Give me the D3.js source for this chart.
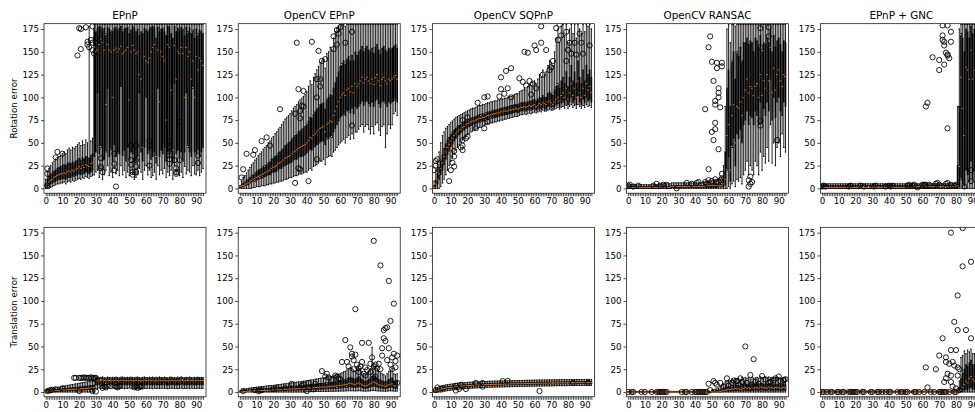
<!DOCTYPE html>
<html>
<head>
<meta charset="utf-8">
<script src="https://cdn.jsdelivr.net/npm/d3@7"></script>
<style>
body { margin: 0; background: #fff; }
svg { display: block; }
text { font-family: "DejaVu Sans", sans-serif; }
</style>
</head>
<body>
<div id="chart"></div>
<script>
// methods and row labels
var titles = ["EPnP", "OpenCV EPnP", "OpenCV SQPnP", "OpenCV RANSAC", "EPnP + GNC"];
var rowLabels = ["Rotation error", "Translation error"];
var positions = d3.range(95);
var xTickLabels = [0, 10, 20, 30, 40, 50, 60, 70, 80, 90];
var yTicks = [0, 25, 50, 75, 100, 125, 150, 175];

// ---------- rotation error ----------
var rotEpnpMed = [2,5,7,9,10,12,13,14,15,16, 16,17,16,18,19,18,20,19,21,22, 24,22,25,23,26,25,24,27,28,155,
  150,152,158,164,160,152,92,158,152,150, 100,152,154,150,153,156,148,150,152,155, 97,150,157,152,148,150,125,120,45,145,
  140,138,143,150,155,158,35,152,95,150, 145,140,75,158,155,108,42,157,120,150, 148,155,148,100,155,145,150,120,140,100, 145,130,143,140,135];
var rotEpnpQ1 = [0,2,3,5,6,7,8,9,10,10, 11,11,10,12,12,12,14,13,14,15, 16,15,17,16,18,17,16,18,20,35,
  40,105,38,45,30,32,40,110,35,42, 30,48,35,40,38,112,36,42,30,45, 32,40,38,28,30,35,105,40,30,45,
  100,38,42,32,35,40,28,110,35,42, 38,45,30,40,35,40,28,115,38,42, 35,40,30,40,105,45,40,35,110,40, 38,42,35,40,45];
var rotEpnpQ3 = [5,10,13,15,17,19,20,22,23,24, 25,26,25,27,28,27,29,28,30,31, 33,31,34,32,35,34,33,36,38,175,
  172,176,178,177,174,176,170,177,175,173, 172,176,177,174,176,178,172,175,176,177, 170,174,178,176,172,175,168,172,170,176,
  174,172,175,177,178,176,165,177,172,175, 176,172,168,178,177,170,165,178,172,176, 174,177,175,168,177,172,176,170,174,165, 175,170,174,172,170];
var rotEpnpLo = [0,0,0,1,2,3,4,5,5,6, 6,7,5,7,8,7,9,8,9,10, 11,10,12,11,13,12,11,13,14,15,
  18,20,12,22,10,15,20,25,14,18, 12,22,16,20,14,25,15,20,12,18, 14,20,16,10,12,15,22,18,10,20,
  25,15,20,12,14,18,10,25,15,20, 16,22,12,18,14,20,10,25,15,20, 14,18,12,24,16,20,18,14,25,16, 15,20,14,18,22];
var rotEpnpHi = [10,18,22,25,28,30,32,34,35,36, 38,40,38,42,44,42,45,44,46,48, 50,47,52,48,53,50,178,52,55,180,
  180,180,180,180,180,180,180,180,180,180, 180,180,180,180,180,180,180,180,180,180, 180,180,180,180,180,180,180,180,180,180,
  180,180,180,180,180,180,180,180,180,180, 180,180,180,180,180,180,180,180,180,180, 180,180,180,180,180,180,180,180,180,180, 180,180,180,180,180];
var rotEpnpOut = [[1,22],[1,16],[1,3],[6,34],[7,40],[10,38],
  [19,146],[20,176],[21,175],[21,153],[24,177],[25,161],[25,158],[26,155],[27,163],[28,160],[28,178],[28,152],[29,148],[30,165],[30,160],
  [33,33],[33,24],[33,22],[34,18],[41,38],[41,27],[41,20],[42,2],
  [51,47],[51,31],[51,26],[52,18],[52,15],[54,47],[54,31],[54,24],[54,18],
  [62,52],[62,47],[62,25],[74,52],[74,45],[74,36],[74,32],[74,27],
  [77,31],[78,22],[78,18],[78,16],[80,73],[80,31],[91,36],[91,28]];

var rotOcvEpnpMed = [0,2,3,4,5,6,8,9,10,11, 12,13,14,15,16,17,18,19,20,22, 23,24,25,27,28,29,31,33,34,35,
  36,38,40,41,42,44,45,46,47,48, 50,53,56,55,58,60,62,64,66,67, 68,62,70,72,74,73,80,85,90,95,
  100,103,105,102,108,110,106,112,105,115, 112,115,118,122,116,120,122,118,115,120, 114,122,125,118,113,120,122,118,115,120, 118,120,122,124,120];
var rotOcvEpnpQ1 = [0,1,2,3,4,4,6,7,8,8, 9,10,11,11,12,13,14,15,15,17, 18,18,19,21,22,22,24,25,26,27,
  28,29,31,32,32,34,35,35,36,37, 39,41,43,42,45,46,48,49,51,52, 52,48,54,55,57,56,62,66,70,74,
  78,80,82,80,85,86,83,88,82,90, 88,90,93,96,91,95,96,93,90,95, 90,96,98,93,89,95,96,93,90,95, 93,95,96,98,95];
var rotOcvEpnpQ3 = [1,4,6,7,9,10,12,14,15,17, 18,20,21,22,24,25,26,28,29,32, 33,35,36,39,40,42,44,47,48,50,
  51,54,56,58,59,62,63,65,66,68, 70,74,78,77,81,84,87,89,92,93, 94,87,98,100,103,102,110,116,122,128,
  134,137,140,136,142,145,140,146,140,150, 146,150,152,156,150,154,156,152,150,154, 148,155,158,152,147,154,156,152,150,154, 152,154,156,158,154];
var rotOcvEpnpLo = [0,0,0,0,0,0,0,0,1,1, 2,2,2,3,3,3,4,4,5,5, 6,6,7,7,8,8,9,10,10,11,
  12,12,13,14,14,15,16,16,17,18, 18,20,22,20,24,25,26,28,30,30, 32,26,34,35,36,35,40,42,45,48,
  50,52,54,50,56,58,54,60,55,62, 62,65,68,70,62,68,70,65,60,68, 60,70,72,64,58,68,70,45,60,70, 66,70,82,85,80];
var rotOcvEpnpHi = [3,8,12,14,17,20,23,26,28,31, 33,36,38,40,43,45,47,50,52,55, 57,60,62,65,67,70,73,76,78,80,
  82,85,88,90,92,95,97,99,101,103, 106,112,118,114,122,126,130,134,138,140, 142,132,148,150,155,152,165,172,176,178,
  180,180,180,178,180,180,180,180,180,180, 180,180,180,180,180,180,180,180,180,180, 180,180,180,180,180,180,180,180,180,180, 180,180,180,180,180];
var rotOcvEpnpOut = [[1,12],[2,21],[4,38],[8,37],[9,42],[13,52],[16,56],[18,47],[24,87],
  [33,6],[33,82],[34,160],[35,109],[35,22],[36,21],[36,77],[36,85],[37,91],[38,107],[38,90],
  [41,8],[43,161],[46,120],[46,100],[46,32],[47,151],[48,120],[48,112],[49,140],[51,142],
  [56,153],[56,167],[58,158],[58,174],[59,170],[60,177],[63,160],[67,172],[67,69]];

var rotSqpnpMed = [1,5,10,16,22,28,35,40,45,48, 52,55,58,60,62,64,65,67,68,70, 71,72,73,74,74,75,76,77,77,78,
  78,79,80,80,81,81,82,82,83,83, 84,84,85,85,85,86,86,87,87,88, 87,88,89,89,90,89,90,91,90,91,
  92,90,91,93,92,94,93,92,95,96, 94,92,95,98,100,96,102,105,100,110, 98,105,115,102,110,100,118,105,100,110, 102,115,108,112,105];
var rotSqpnpQ1 = [0,2,5,10,15,20,26,32,37,41, 46,49,52,55,57,59,61,63,64,66, 67,68,69,70,70,71,72,73,73,74,
  74,75,76,76,77,77,78,78,79,79, 80,80,81,81,81,82,82,83,83,84, 83,84,85,85,86,85,86,87,86,87,
  88,86,87,88,87,89,88,87,90,90, 89,88,90,92,93,90,94,95,92,97, 92,95,100,94,98,92,102,95,92,98, 94,100,96,98,95];
var rotSqpnpQ3 = [3,9,16,23,30,37,44,49,53,56, 59,62,64,66,68,69,70,72,73,74, 75,76,77,78,78,79,80,81,81,82,
  82,83,84,84,85,85,86,86,87,87, 88,88,89,89,90,90,91,91,92,92, 92,93,94,94,95,94,95,96,96,97,
  98,96,98,100,99,102,100,100,104,106, 104,102,108,112,115,110,118,122,115,128, 112,122,135,118,128,115,140,122,115,130, 118,135,125,130,122];
var rotSqpnpLo = [0,0,0,0,2,6,10,15,20,25, 30,34,38,42,45,48,51,53,55,57, 59,60,62,63,64,65,66,67,67,68,
  69,70,71,71,72,72,73,73,74,74, 75,75,76,76,77,77,78,78,79,79, 79,80,81,81,82,81,82,83,82,83,
  84,83,84,85,84,86,85,85,86,87, 86,86,87,88,89,87,89,90,88,91, 88,90,92,89,91,88,92,90,88,91, 89,92,90,91,89];
var rotSqpnpHi = [8,20,30,40,50,58,62,66,68,70, 72,74,76,78,79,80,81,82,83,84, 85,86,87,88,88,89,90,91,91,92,
  92,93,94,94,95,95,96,96,97,97, 98,98,99,99,100,101,101,102,103,104, 104,106,107,108,110,108,112,114,113,116,
  118,115,120,125,122,130,125,128,135,140, 138,135,150,165,175,160,178,180,168,180, 160,175,180,170,180,165,180,175,170,180, 172,180,178,180,175];
var rotSqpnpOut = [[0,20],[1,25],[1,30],[2,32],[9,8],[10,20],[11,28],[12,35],[12,41],[12,24],
  [16,45],[17,47],[17,42],[17,53],[17,75],[19,55],[20,57],[20,78],[25,66],[26,94],
  [30,66],[30,100],[32,101],[32,73],[39,101],[40,109],[40,122],[42,104],[43,129],[44,110],[46,132],[46,100],
  [51,121],[53,117],[54,150],[55,113],[56,149],[57,118],[58,103],[59,115],[60,157],[61,152],[61,110],
  [64,178],[64,160],[65,125],[67,152],[69,130],[70,133],[71,140],[73,176],[74,163],[75,180],[76,168],
  [79,140],[79,172],[80,152],[81,160],[82,148],[84,160],[85,147],[87,170],[88,160],[89,148],[93,157]];

var rotRansacMed = [1,1,1,1,1,1,1,1,1,1, 1,1,1,1,1,1,1,1,1,1, 1,1,1,1,1,1,2,2,2,2,
  2,2,2,2,2,2,2,2,2,2, 2,2,2,2,2,2,2,3,3,3, 3,3,3,3,3,3,3,5,10,58,
  70,20,80,92,50,90,88,95,80,100, 108,120,105,112,110,102,112,115,100,125, 102,118,110,125,118,155,105,132,108,125, 130,118,112,125,123];
var rotRansacQ1 = [0,0,0,0,0,0,0,0,0,0, 0,0,0,0,0,0,0,0,0,0, 0,0,0,0,0,0,1,1,1,1,
  1,1,1,1,1,1,1,1,1,1, 1,1,1,1,1,1,1,1,1,1, 1,1,1,1,2,2,2,2,4,20,
  35,8,45,55,25,60,55,65,50,70, 75,85,70,80,78,70,85,80,70,95, 72,88,80,95,85,120,75,100,78,95, 100,85,80,95,90];
var rotRansacQ3 = [2,2,2,2,2,2,2,2,2,2, 2,2,2,2,2,2,2,2,2,2, 2,2,2,2,2,2,3,3,3,3,
  3,3,3,3,3,3,3,3,3,3, 3,3,3,3,3,3,4,4,4,4, 4,5,5,5,5,6,6,10,40,110,
  130,90,140,150,120,150,145,155,140,160, 160,165,158,162,160,150,165,162,155,168, 150,160,158,165,160,175,150,168,155,162, 165,158,150,162,160];
var rotRansacLo = [0,0,0,0,0,0,0,0,0,0, 0,0,0,0,0,0,0,0,0,0, 0,0,0,0,0,0,0,0,0,0,
  0,0,0,0,0,0,0,0,0,0, 0,0,0,0,0,0,0,0,0,0, 0,0,0,0,0,0,0,0,0,0,
  2,0,5,8,2,10,8,12,5,15, 20,30,15,25,20,15,30,25,15,40, 20,35,28,45,30,70,28,50,25,45, 50,35,60,45,40];
var rotRansacHi = [4,4,4,4,4,4,4,4,4,4, 4,4,4,4,4,4,4,4,4,4, 5,5,5,5,5,5,6,6,6,6,
  6,6,6,6,6,6,6,6,6,6, 6,6,6,6,6,7,7,8,8,8, 8,9,9,9,10,10,12,25,90,175,
  180,160,180,180,178,180,180,180,180,180, 180,180,180,180,180,180,180,180,180,180, 180,180,180,180,180,180,180,180,180,180, 180,180,180,180,180];
var rotRansacOut = [[0,3],[1,4],[3,2],[6,3],[15,3],[17,5],[19,3],[21,4],[23,4],[29,0],[35,6],[38,5],[41,6],[42,7],[46,7],[47,5],[48,9],[50,8],[52,10],[53,7],[55,9],[56,11],
  [46,87],[48,155],[49,167],[50,139],[51,118],[48,21],[50,62],[51,53],[52,72],[52,65],[52,96],[52,92],[53,132],[53,138],[54,110],[54,100],[54,105],[54,43],[55,89],[56,134],[56,138],[56,16],
  [72,9],[72,2],[73,5],[73,13],[74,7],[79,176],[79,155],[79,74],[79,69],[84,177],[84,167],[89,53]];

var rotGncMed = [1,1,1,1,1,1,1,1,1,1, 1,1,1,1,1,1,1,1,1,1, 1,1,1,1,1,1,1,1,1,1,
  1,1,1,1,1,1,1,1,1,1, 1,1,1,1,1,1,1,1,1,1, 1,1,1,1,1,2,2,2,2,2,
  2,2,2,2,2,2,2,2,2,2, 2,2,2,2,2,2,2,2,2,2, 2,3,24,122,88,58,133,130,120,152, 120,130,110,140,125];
var rotGncQ1 = [0,0,0,0,0,0,0,0,0,0, 0,0,0,0,0,0,0,0,0,0, 0,0,0,0,0,0,0,0,0,0,
  0,0,0,0,0,0,0,0,0,0, 0,0,0,0,0,0,0,0,0,0, 0,0,0,0,0,0,0,0,0,0,
  0,0,0,0,0,0,0,0,0,0, 0,0,0,0,0,0,0,0,0,0, 0,0,2,10,5,3,20,15,8,30, 10,20,15,25,10];
var rotGncQ3 = [3,3,3,3,3,3,3,3,3,3, 3,3,3,3,3,3,3,3,3,3, 3,3,3,3,3,3,3,3,3,3,
  3,3,3,3,3,3,3,3,3,3, 3,3,3,3,3,3,3,3,3,3, 3,3,3,3,3,3,3,3,3,3,
  3,3,3,3,3,3,3,3,3,3, 3,3,3,3,3,3,3,3,3,3, 3,25,90,170,165,150,175,172,165,178, 170,175,165,178,170];
var rotGncLo = [0,0,0,0,0,0,0,0,0,0, 0,0,0,0,0,0,0,0,0,0, 0,0,0,0,0,0,0,0,0,0,
  0,0,0,0,0,0,0,0,0,0, 0,0,0,0,0,0,0,0,0,0, 0,0,0,0,0,0,0,0,0,0,
  0,0,0,0,0,0,0,0,0,0, 0,0,0,0,0,0,0,0,0,0, 0,0,0,0,0,0,0,0,0,0, 0,0,0,0,0];
var rotGncHi = [5,5,5,5,5,5,5,5,5,5, 5,5,5,5,5,5,5,5,5,5, 5,5,5,5,5,5,5,5,5,5,
  5,5,5,5,5,5,5,5,5,5, 5,5,5,5,5,5,5,5,5,5, 5,5,5,5,5,5,5,5,5,5,
  5,5,5,5,5,5,5,5,5,5, 5,5,5,5,5,5,5,5,5,5, 5,90,175,180,180,180,180,180,180,180, 180,180,180,180,180];
var rotGncOut = [[0,2],[1,3],[2,2],[16,2],[17,3],[23,3],[25,2],[31,2],[32,3],[38,2],[40,3],[41,2],[42,3],[51,3],[52,4],[54,3],[55,4],[57,1],[60,4],[61,4],[62,4],[64,4],[68,5],[69,6],[70,4],[74,5],[75,6],[77,4],[79,3],[80,4],
  [62,90],[63,94],[66,144],[70,141],[70,130],[72,179],[72,168],[72,163],[73,161],[73,157],[73,136],[74,149],[75,146],[75,147],[76,143],[75,179],[77,161],[77,172],[75,66],[89,20],[89,8],[85,2]];

// ---------- translation error ----------
var trEpnpMed = [0.3,0.5,0.7,0.9,1,1.2,1.4,1.5,1.7,1.8, 2,2.1,2.2,2.4,2.5,2.6,2.8,2.9,3,3.1, 3.3,3.4,3.5,3.7,3.8,4,4.2,4.3,4.5,4.8,
  12.5,13,12,12.8,13.2,12.5,12,13,12.6,12.2, 12.8,12.4,13,12.6,12,12.9,13.1,12.5,12.2,12.8, 12.4,13,12.6,12.2,12.8,13,12.5,12.1,12.7,13.2,
  12.6,12.3,12.9,12.5,13,12.2,12.8,12.4,13.1,12.6, 12.3,12.9,12.5,12.1,12.8,13,12.4,12.7,12.2,12.9, 12.5,13.1,12.6,12.3,12.8,12.4,13,12.6,12.2,12.8, 12.5,12.9,12.4,12.7,12.6];
var trEpnpQ1 = [0,0.2,0.3,0.4,0.5,0.6,0.7,0.8,0.9,1, 1.1,1.2,1.3,1.4,1.5,1.6,1.7,1.8,1.8,1.9, 2,2.1,2.2,2.3,2.4,2.5,2.6,2.7,2.8,3,
  8,7.5,8.2,7.8,8,7.4,8.3,7.9,8.1,7.6, 8,7.7,8.4,7.5,8.1,7.9,8.2,7.6,8,7.8, 8.3,7.5,8,7.9,7.6,8.2,7.8,8.1,7.4,8,
  7.7,8.2,7.9,8,7.5,8.3,7.8,8.1,7.6,8, 8.2,7.7,8,7.5,8.1,7.9,8.3,7.6,8,7.8, 7.9,8.2,7.6,8,7.8,8.1,7.5,8.3,7.9,8, 7.7,8.1,7.8,8,7.9];
var trEpnpQ3 = [0.8,1.2,1.5,1.8,2,2.3,2.6,2.8,3.1,3.3, 3.5,3.7,3.9,4.1,4.3,4.5,4.7,4.9,5.1,5.3, 5.5,5.7,5.9,6.1,6.3,6.5,6.8,7,7.2,7.6,
  14.5,14.8,14.2,14.6,15,14.4,14.1,14.9,14.5,14.3, 14.7,14.4,14.9,14.5,14.2,14.8,15,14.4,14.3,14.7, 14.4,14.9,14.5,14.2,14.7,14.9,14.4,14.1,14.6,15,
  14.5,14.3,14.8,14.4,14.9,14.2,14.7,14.4,15,14.5, 14.3,14.8,14.5,14.1,14.7,14.9,14.4,14.6,14.2,14.8, 14.5,15,14.5,14.3,14.7,14.4,14.9,14.5,14.2,14.7, 14.4,14.8,14.4,14.6,14.5];
var trEpnpLo = [0,0,0,0,0,0,0,0,0,0, 0,0,0,0,0,0,0,0,0,0, 0,0,0,0,0,0,0,0,0,0,
  4,3.5,4.5,3.8,4.2,3.6,4.4,3.9,4.1,3.7, 4.3,3.8,4,3.5,4.4,3.9,4.2,3.6,4.1,3.8, 4.5,3.7,4,4.2,3.6,4.4,3.9,4.1,3.5,4,
  3.8,4.3,3.9,4.1,3.6,4.4,3.8,4.2,3.7,4, 4.3,3.8,4.1,3.6,4.2,3.9,4.4,3.7,4,3.8, 4,4.3,3.7,4.1,3.9,4.2,3.6,4.4,3.9,4, 3.8,4.2,3.9,4.1,4];
var trEpnpHi = [2,2.5,3,3.4,3.8,4.2,4.6,5,5.4,5.8, 6.2,6.5,6.8,7.2,7.5,7.8,8.2,8.5,8.8,9.1, 9.5,9.8,10.1,10.5,10.8,11.2,11.6,11.9,12.3,13,
  15.8,16.2,15.6,16,16.4,15.7,15.5,16.3,15.9,15.6, 16.1,15.8,16.3,15.9,15.5,16.2,16.4,15.8,15.7,16.1, 15.8,16.3,15.9,15.6,16.1,16.3,15.8,15.5,16,16.4,
  15.9,15.7,16.2,15.8,16.3,15.6,16.1,15.8,16.4,15.9, 15.7,16.2,15.9,15.5,16.1,16.3,15.8,16,15.6,16.2, 15.9,16.4,15.9,15.7,16.1,15.8,16.3,15.9,15.6,16.1, 15.8,16.2,15.8,16,15.9];
var trEpnpOut = [[1,1],[2,1.5],[3,2],[4,2.5],[6,3],[10,4],[17,15.5],[18,15.5],[20,15.5],[20,1],[21,15.5],[22,15.5],[23,16],[24,15.5],[25,15.5],[26,15.5],[27,16],[28,15.5],[28,1],[29,15.5],[29,14],[30,15.5],[30,0.5],
  [34,4.5],[35,6],[36,5],[42,6],[43,5],[44,6.5],[53,5],[54,6],[55,4.5],[56,5.5],[57,6]];

var trOcvEpnpMed = [0,0.2,0.4,0.5,0.6,0.8,0.9,1,1.1,1.2, 1.3,1.4,1.5,1.5,1.6,1.7,1.8,1.9,2,2, 2.1,2.2,2.3,2.4,2.5,2.6,2.7,2.8,2.9,3,
  3.1,3.2,3.3,3.4,3.5,3.6,3.7,3.8,3.9,4, 4.1,4.2,4.4,4.5,4.6,4.8,4.9,5,5.2,5.3, 5.4,5.5,5.6,5.8,6,6,6.2,6.5,6.8,7,
  7.2,7.5,7.8,8,8.5,9,9.5,9,8.5,8, 9,10,9,8,7,6.5,7,8,9,10, 11,10,9,8,7.5,7,6.5,6,7,8, 8.5,9,7,6.5,7];
var trOcvEpnpQ1 = [0,0.1,0.2,0.3,0.4,0.5,0.5,0.6,0.7,0.7, 0.8,0.8,0.9,0.9,1,1,1.1,1.1,1.2,1.2, 1.3,1.3,1.4,1.4,1.5,1.6,1.6,1.7,1.7,1.8,
  1.9,1.9,2,2,2.1,2.2,2.2,2.3,2.3,2.4, 2.5,2.5,2.6,2.7,2.8,2.9,2.9,3,3.1,3.2, 3.2,3.3,3.4,3.5,3.6,3.6,3.7,3.9,4,4.2,
  4.3,4.5,4.7,4.8,5,5.4,5.7,5.4,5,4.8, 5.4,6,5.4,4.8,4.2,3.9,4.2,4.8,5.4,6, 6.6,6,5.4,4.8,4.5,4.2,3.9,3.6,4.2,4.8, 5,5.4,4.2,3.9,4.2];
var trOcvEpnpQ3 = [0.5,1.3,1.6,1.8,2,2.3,2.4,2.6,2.8,2.9, 3.1,3.2,3.4,3.4,3.6,3.7,3.9,4,4.2,4.2, 4.4,4.5,4.7,4.8,5,5.2,5.3,5.5,5.6,5.8,
  6,6.1,6.3,6.4,6.6,6.8,6.9,7.1,7.2,7.4, 7.6,7.7,8,8.2,8.4,8.7,8.8,9,9.3,9.5, 9.6,9.8,10,10.3,10.6,10.6,10.9,11.4,11.9,12.2,
  12.5,13,13.5,13.8,14.6,15.4,16.2,15.4,14.6,13.8, 15.4,17,15.4,13.8,12.2,11.4,12.2,13.8,15.4,17, 18.6,17,15.4,13.8,13,12.2,11.4,10.6,12.2,13.8, 14.6,15.4,12.2,11.4,12.2];
var trOcvEpnpLo = [0,0,0,0,0,0,0,0,0,0, 0,0,0,0,0,0,0,0,0,0, 0,0,0,0,0,0,0,0,0,0,
  0,0,0,0,0,0,0,0,0,0, 0.3,0.3,0.4,0.4,0.4,0.5,0.5,0.5,0.6,0.6, 0.6,0.6,0.7,0.7,0.8,0.8,0.8,0.9,0.9,1,
  1,1.1,1.1,1.2,1.3,1.4,1.4,1.3,1.3,1.2, 1.3,1.5,1.3,1.2,1.1,1,1.1,1.2,1.3,1.5, 1.6,1.5,1.3,1.2,1.1,1,1,0.9,1,1.2, 1.3,1.3,1,1,1];
var trOcvEpnpHi = [1,2.5,3,3.2,3.5,4,4.2,4.5,4.8,5, 5.2,5.5,5.8,5.8,6,6.2,6.5,6.8,7,7, 7.2,7.5,7.8,8,8.2,8.5,8.8,9,9.2,9.5,
  9.8,10,10.2,10.5,10.8,11,11.2,11.5,11.8,12, 12.2,12.5,13,13.2,13.5,14,14.2,14.5,15,15.2, 15.5,15.8,16,16.5,17,17,17.5,18,19,19.5,
  20,21,22,22.5,24,25.5,27,25.5,24,22.5, 25.5,28,25.5,22.5,20,19,20,22.5,25.5,49, 31,28,25.5,22.5,21,20,19,17.5,20,22.5, 24,25.5,20,19,20];
var trOcvEpnpOut = [[2,1],[9,2],[11,1],[12,1.5],[13,2],[20,3],[22,4],[27,4],[31,9],[37,7],[38,8],[40,1],[41,10],[44,3],[45,9],
  [49,23],[51,17],[52,20],[53,16],[55,13],[57,18],[58,17],[59,15],[60,14],[61,33],[63,57],[64,33],[65,28],[66,49],[67,39],[67,42],[68,35],[68,25],[69,91],[69,41],
  [70,30],[71,26],[71,22],[72,28],[73,54],[73,33],[74,20],[75,27],[75,18],[76,24],[77,54],[78,31],[78,22],[79,38],[80,166],[80,28],[81,30],[81,17],[82,26],[83,31],
  [84,139],[84,25],[85,48],[85,40],[86,59],[86,68],[87,56],[87,70],[88,35],[88,71],[89,122],[89,48],[90,78],[90,30],[91,25],[91,38],[92,97],[92,42],[93,34],[93,27],[94,40],[94,10]];

var trSqpnpMed = [0,0.8,1.5,2.2,2.8,3.3,3.8,4.2,4.5,4.8, 5,5.3,5.5,5.8,6,6.2,6.4,6.5,6.7,6.8, 7,7.1,7.2,7.3,7.4,7.5,7.6,7.7,7.8,7.9,
  8,8,8.1,8.2,8.2,8.3,8.4,8.4,8.5,8.5, 8.6,8.6,8.7,8.7,8.8,8.8,8.9,8.9,9,9, 9,9.1,9.1,9.2,9.2,9.3,9.3,9.3,9.4,9.4,
  9.5,9.5,9.5,9.6,9.6,9.6,9.7,9.7,9.7,9.8, 9.8,9.8,9.9,9.9,9.9,10,10,10,10,10, 10,10.1,10.1,10.1,10.1,10.2,10.2,10.2,10.2,10.2, 10.3,10.3,10.3,10.3,10.3];
var trSqpnpQ1 = [0,0.2,0.6,1.2,1.8,2.3,2.8,3.2,3.5,3.8, 4,4.3,4.5,4.8,5,5.2,5.4,5.5,5.7,5.8, 6,6.1,6.2,6.3,6.4,6.5,6.6,6.7,6.8,6.9,
  7,7,7.1,7.2,7.2,7.3,7.4,7.4,7.5,7.5, 7.6,7.6,7.7,7.7,7.8,7.8,7.9,7.9,8,8, 8,8.1,8.1,8.2,8.2,8.3,8.3,8.3,8.4,8.4,
  8.5,8.5,8.5,8.6,8.6,8.6,8.7,8.7,8.7,8.8, 8.8,8.8,8.9,8.9,8.9,9,9,9,9,9, 9,9.1,9.1,9.1,9.1,9.2,9.2,9.2,9.2,9.2, 9.3,9.3,9.3,9.3,9.3];
var trSqpnpQ3 = [0.6,1.8,2.7,3.4,4,4.5,5,5.4,5.7,6, 6.2,6.5,6.7,7,7.2,7.4,7.6,7.7,7.9,8, 8.2,8.3,8.4,8.5,8.6,8.7,8.8,8.9,9,9.1,
  9.2,9.2,9.3,9.4,9.4,9.5,9.6,9.6,9.7,9.7, 9.8,9.8,9.9,9.9,10,10,10.1,10.1,10.2,10.2, 10.2,10.3,10.3,10.4,10.4,10.5,10.5,10.5,10.6,10.6,
  10.7,10.7,10.7,10.8,10.8,10.8,10.9,10.9,10.9,11, 11,11,11.1,11.1,11.1,11.2,11.2,11.2,11.2,11.2, 11.2,11.3,11.3,11.3,11.3,11.4,11.4,11.4,11.4,11.4, 11.5,11.5,11.5,11.5,11.5];
var trSqpnpLo = [0,0,0,0,0,0.3,0.8,1.2,1.5,1.8, 2,2.3,2.5,2.8,3,3.2,3.4,3.5,3.7,3.8, 4,4.1,4.2,4.3,4.4,4.5,4.6,4.7,4.8,4.9,
  5,5,5.1,5.2,5.2,5.3,5.4,5.4,5.5,5.5, 5.6,5.6,5.7,5.7,5.8,5.8,5.9,5.9,6,6, 6,6.1,6.1,6.2,6.2,6.3,6.3,6.3,6.4,6.4,
  6.5,6.5,6.5,6.6,6.6,6.6,6.7,6.7,6.7,6.8, 6.8,6.8,6.9,6.9,6.9,7,7,7,7,7, 7,7.1,7.1,7.1,7.1,7.2,7.2,7.2,7.2,7.2, 7.3,7.3,7.3,7.3,7.3];
var trSqpnpHi = [2,4.3,5,5.7,6.3,6.8,7.3,7.7,8,8.3, 8.5,8.8,9,9.3,9.5,9.7,9.9,10,10.2,10.3, 10.5,10.6,10.7,10.8,10.9,11,11.1,11.2,11.3,11.4,
  11.5,11.5,11.6,11.7,11.7,11.8,11.9,11.9,12,12, 12.1,12.1,12.2,12.2,12.3,12.3,12.4,12.4,12.5,12.5, 12.5,12.6,12.6,12.7,12.7,12.8,12.8,12.8,12.9,12.9,
  13,13,13,13.1,13.1,13.1,13.2,13.2,13.2,13.3, 13.3,13.3,13.4,13.4,13.4,13.5,13.5,13.5,13.5,13.5, 13.5,13.6,13.6,13.6,13.6,13.7,13.7,13.7,13.7,13.7, 13.8,13.8,13.8,13.8,13.8];
var trSqpnpOut = [[1,2],[2,5],[5,4],[13,6.8],[16,7.9],[13,1.5],[15,3.3],[19,3.3],[25,9.9],[29,9.9],[29,5.9],[41,12],[44,12.2],[63,1],[83,10],[92,10]];

var trRansacMed = [0,0,0,0,0,0,0,0,0,0, 0,0,0,0,0,0,0,0,0,0, 0,0,0,0,0,0,0,0,0,0,
  0,0,0,0,0,0,0,0,0,0, 0,0,0,0,0,0,0,0,0,0, 0,0,0,0,0,0.5,1,1.5,2,2.5,
  3,2.5,3.5,3,4,3.5,4,3,4.5,4, 5,4,4.5,3.5,5,4,4.5,5,4,5.5, 5,4.5,5,4,5.5,4.5,5,4,5,4.5, 5,4,4.5,5,4.5];
var trRansacQ1 = [0,0,0,0,0,0,0,0,0,0, 0,0,0,0,0,0,0,0,0,0, 0,0,0,0,0,0,0,0,0,0,
  0,0,0,0,0,0,0,0,0,0, 0,0,0,0,0,0,0,0,0,0, 0,0,0,0,0,0,0.3,0.5,0.8,1,
  1.2,1,1.5,1.2,1.8,1.5,1.8,1.2,2,1.6, 2,1.6,1.8,1.4,2,1.6,1.8,2,1.6,2.2, 2,1.8,2,1.6,2.2,1.8,2,1.6,2,1.8, 2,1.6,1.8,2,1.8];
var trRansacQ3 = [0.3,0.3,0.3,0.3,0.3,0.3,0.3,0.3,0.3,0.3, 0.3,0.3,0.3,0.3,0.3,0.3,0.3,0.3,0.3,0.3, 0.3,0.3,0.3,0.3,0.3,0.3,0.3,0.3,0.3,0.3,
  0.3,0.3,0.3,0.3,0.3,0.3,0.3,0.3,0.3,0.3, 0.3,0.3,0.3,0.3,0.3,0.3,0.3,0.3,0.3,0.3, 0.8,1,1.2,1.5,2,2.5,3,4,5,5.5,
  6,5.5,7,6.5,8,7,7.5,6.5,8.5,8, 9,8,8.5,7,9,8,8.5,9,8,9.5, 9,8.5,9,8,9.5,8.5,9,8,9,8.5, 9,8,8.5,9,8.5];
var trRansacLo = [0,0,0,0,0,0,0,0,0,0, 0,0,0,0,0,0,0,0,0,0, 0,0,0,0,0,0,0,0,0,0,
  0,0,0,0,0,0,0,0,0,0, 0,0,0,0,0,0,0,0,0,0, 0,0,0,0,0,0,0,0,0,0,
  0,0,0,0,0,0,0,0,0,0, 0,0,0,0,0,0,0,0,0,0, 0,0,0,0,0,0,0,0,0,0, 0,0,0,0,0];
var trRansacHi = [0.6,0.6,0.6,0.6,0.6,0.6,0.6,0.6,0.6,0.6, 0.6,0.6,0.6,0.6,0.6,0.6,0.6,0.6,0.6,0.6, 0.6,0.6,0.6,0.6,0.6,0.6,0.6,0.6,0.6,0.6,
  0.6,0.6,0.6,0.6,0.6,0.6,0.6,0.6,0.6,0.6, 0.6,0.6,0.6,0.6,0.6,0.6,0.6,0.6,0.6,0.6, 2,2.5,3,3.5,4,6,7,9,11,12,
  13,12,14,13,15,14,15,13,16,15, 16,15,15.5,14,16,15,15.5,16,15,16.5, 16,15.5,16,15,16.5,15.5,16,15,16,15.5, 16,15,15.5,16,15.5];
var trRansacOut = [[0,0],[2,0],[3,0],[8,0],[10,0],[14,0],[17,0],[18,0],[19,0],[20,0],[21,0],[22,0],[23,0],[32,0],[34,0],[35,0],[38,0],[40,0],[41,0],[42,0],[43,0],[44,0],[45,0],[46,0],[47,0],
  [48,9],[49,2],[51,12],[52,10],[53,8],[55,10],[57,6],[59,15],[60,7],[62,10],[63,12.5],[65,12],[66,8],[67,15],[68,11],[70,50],[71,10],[73,18.6],[74,8],[75,36],[76,11],[78,9],
  [80,17.5],[82,14],[84,10],[85,11],[87,13],[88,15],[90,17],[91,12],[93,13],[94,14]];

var trGncMed = [0,0,0,0,0,0,0,0,0,0, 0,0,0,0,0,0,0,0,0,0, 0,0,0,0,0,0,0,0,0,0,
  0,0,0,0,0,0,0,0,0,0, 0,0,0,0,0,0,0,0,0,0, 0,0,0,0,0,0,0,0,0,0,
  0,0,0,0,0,0,0,0,0,0, 0,0,0,0,0,0,0,0,0,0, 0,0,0,2,5,8,12,10,15,17, 14,12,16,15,18];
var trGncQ1 = [0,0,0,0,0,0,0,0,0,0, 0,0,0,0,0,0,0,0,0,0, 0,0,0,0,0,0,0,0,0,0,
  0,0,0,0,0,0,0,0,0,0, 0,0,0,0,0,0,0,0,0,0, 0,0,0,0,0,0,0,0,0,0,
  0,0,0,0,0,0,0,0,0,0, 0,0,0,0,0,0,0,0,0,0, 0,0,0,0.5,1,2,3,2,4,5, 3,3,4,5,4];
var trGncQ3 = [0.4,0.4,0.4,0.4,0.4,0.4,0.4,0.4,0.4,0.4, 0.4,0.4,0.4,0.4,0.4,0.4,0.4,0.4,0.4,0.4, 0.4,0.4,0.4,0.4,0.4,0.4,0.4,0.4,0.4,0.4,
  0.4,0.4,0.4,0.4,0.4,0.4,0.4,0.4,0.4,0.4, 0.4,0.4,0.4,0.4,0.4,0.4,0.4,0.4,0.4,0.4, 0.4,0.4,0.4,0.4,0.4,0.4,0.4,0.4,0.4,0.4,
  0.4,0.4,0.4,0.4,0.4,0.4,0.4,0.4,0.4,0.4, 0.4,0.4,0.4,0.4,0.4,0.4,0.4,0.4,0.4,0.4, 0.4,0.4,5,15,20,25,30,28,32,35, 30,30,35,32,35];
var trGncLo = [0,0,0,0,0,0,0,0,0,0, 0,0,0,0,0,0,0,0,0,0, 0,0,0,0,0,0,0,0,0,0,
  0,0,0,0,0,0,0,0,0,0, 0,0,0,0,0,0,0,0,0,0, 0,0,0,0,0,0,0,0,0,0,
  0,0,0,0,0,0,0,0,0,0, 0,0,0,0,0,0,0,0,0,0, 0,0,0,0,0,0,0,0,0,0, 0,0,0,0,0];
var trGncHi = [0.8,0.8,0.8,0.8,0.8,0.8,0.8,0.8,0.8,0.8, 0.8,0.8,0.8,0.8,0.8,0.8,0.8,0.8,0.8,0.8, 0.8,0.8,0.8,0.8,0.8,0.8,0.8,0.8,0.8,0.8,
  0.8,0.8,0.8,0.8,0.8,0.8,0.8,0.8,0.8,0.8, 0.8,0.8,0.8,0.8,0.8,0.8,0.8,0.8,0.8,0.8, 0.8,0.8,0.8,0.8,0.8,0.8,0.8,0.8,0.8,0.8,
  0.8,0.8,0.8,0.8,0.8,0.8,0.8,0.8,0.8,0.8, 0.8,0.8,0.8,0.8,0.8,0.8,0.8,0.8,0.8,0.8, 0.8,0.8,12,38,40,45,42,46,44,47, 42,42,46,44,47];
var trGncOut = [[0,0],[1,0],[3,0],[5,0],[6,0],[9,0],[10,0],[12,0],[13,0],[16,0],[17,0],[18,0],[19,0],[20,0],[21,0],[24,0],[25,0],[29,0],[30,0],[33,0],[34,0],[36,0],[38,0],[40,0],[41,0],
  [45,0],[47,0],[48,0],[50,0],[51,0],[55,0],[56,0],[58,0],[61,0],[65,0],[67,0],[70,0],[71,0],[72,0],[73,0],[74,0],[76,0],[79,0],[80,0],
  [62,27],[63,5],[68,25],[70,40],[72,59],[74,38],[74,33],[75,20],[73,11],[74,15],[76,31],[77,46],[77,11],[77,18],[77,175],[78,33],[79,29],[78,6],[80,46],[79,77],
  [80,4],[81,68],[81,27],[81,18],[81,106],[82,25],[84,180],[84,138],[86,68],[89,143],[89,59],[82,2]];

// panel table
var panels = [
  {row: 0, col: 0, med: rotEpnpMed, q1: rotEpnpQ1, q3: rotEpnpQ3, lo: rotEpnpLo, hi: rotEpnpHi, out: rotEpnpOut},
  {row: 0, col: 1, med: rotOcvEpnpMed, q1: rotOcvEpnpQ1, q3: rotOcvEpnpQ3, lo: rotOcvEpnpLo, hi: rotOcvEpnpHi, out: rotOcvEpnpOut},
  {row: 0, col: 2, med: rotSqpnpMed, q1: rotSqpnpQ1, q3: rotSqpnpQ3, lo: rotSqpnpLo, hi: rotSqpnpHi, out: rotSqpnpOut},
  {row: 0, col: 3, med: rotRansacMed, q1: rotRansacQ1, q3: rotRansacQ3, lo: rotRansacLo, hi: rotRansacHi, out: rotRansacOut},
  {row: 0, col: 4, med: rotGncMed, q1: rotGncQ1, q3: rotGncQ3, lo: rotGncLo, hi: rotGncHi, out: rotGncOut},
  {row: 1, col: 0, med: trEpnpMed, q1: trEpnpQ1, q3: trEpnpQ3, lo: trEpnpLo, hi: trEpnpHi, out: trEpnpOut},
  {row: 1, col: 1, med: trOcvEpnpMed, q1: trOcvEpnpQ1, q3: trOcvEpnpQ3, lo: trOcvEpnpLo, hi: trOcvEpnpHi, out: trOcvEpnpOut},
  {row: 1, col: 2, med: trSqpnpMed, q1: trSqpnpQ1, q3: trSqpnpQ3, lo: trSqpnpLo, hi: trSqpnpHi, out: trSqpnpOut},
  {row: 1, col: 3, med: trRansacMed, q1: trRansacQ1, q3: trRansacQ3, lo: trRansacLo, hi: trRansacHi, out: trRansacOut},
  {row: 1, col: 4, med: trGncMed, q1: trGncQ1, q3: trGncQ3, lo: trGncLo, hi: trGncHi, out: trGncOut}
];

var w = 975, h = 412;
var colLeft = [44, 238.2, 432.4, 626.5, 820.4];
var rowTop = [23.7, 227.3];
var plotW = 162, plotH = 169.5;
var lw = 0.87;
var medColor = "#ff7f0e";

var svg = d3.select("#chart").append("svg")
    .attr("width", w)
    .attr("height", h);

var defs = svg.append("defs");

panels.forEach(function(p, k) {
    var left = colLeft[p.col], top = rowTop[p.row];
    var xScale = d3.scaleLinear().domain([-1.0, 95.8]).range([left, left + plotW]);
    var yScale = d3.scaleLinear().domain([-5.3, 180.9]).range([top + plotH, top]);

    defs.append("clipPath").attr("id", "clip" + k)
      .append("rect")
        .attr("x", left).attr("y", top)
        .attr("width", plotW).attr("height", plotH);

    var g = svg.append("g");
    var body = g.append("g").attr("clip-path", "url(#clip" + k + ")");

    var boxHalf = (xScale(0.25) - xScale(0)), capHalf = boxHalf / 2;

    positions.forEach(function(i) {
        var cx = xScale(i);
        var yq1 = yScale(p.q1[i]), yq3 = yScale(p.q3[i]);
        var ylo = yScale(p.lo[i]), yhi = yScale(p.hi[i]);
        var line = function(x1, y1, x2, y2, col) {
            body.append("line")
                .attr("x1", x1).attr("y1", y1).attr("x2", x2).attr("y2", y2)
                .attr("stroke", col || "#000")
                .attr("stroke-width", lw)
                .attr("stroke-linecap", "square");
        };
        // whiskers
        line(cx, yq1, cx, ylo);
        line(cx, yq3, cx, yhi);
        // caps
        line(cx - capHalf, ylo, cx + capHalf, ylo);
        line(cx - capHalf, yhi, cx + capHalf, yhi);
        // box
        body.append("rect")
            .attr("x", cx - boxHalf).attr("y", yq3)
            .attr("width", 2 * boxHalf).attr("height", Math.max(0, yq1 - yq3))
            .attr("fill", "none")
            .attr("stroke", "#000")
            .attr("stroke-width", lw);
        // median
        line(cx - boxHalf, yScale(p.med[i]), cx + boxHalf, yScale(p.med[i]), medColor);
        // fliers of this box
        p.out.filter(function(o) { return o[0] === i; }).forEach(function(o) {
            body.append("circle")
                .attr("cx", cx).attr("cy", yScale(o[1]))
                .attr("r", 2.6)
                .attr("fill", "none")
                .attr("stroke", "#000")
                .attr("stroke-width", lw);
        });
    });

    // axes
    var yAxis = d3.axisLeft(yScale).tickValues(yTicks).tickSize(3).tickPadding(2);
    var xAxis = d3.axisBottom(xScale).tickValues(positions).tickSize(3).tickPadding(2)
        .tickFormat(function(d) { return xTickLabels.indexOf(d) >= 0 ? d : ""; });

    var ya = g.append("g").attr("transform", "translate(" + left + ",0)").call(yAxis);
    var xa = g.append("g").attr("transform", "translate(0," + (top + plotH) + ")").call(xAxis);
    [ya, xa].forEach(function(a) {
        a.select(".domain").remove();
        a.selectAll("line").attr("stroke", "#000").attr("stroke-width", 0.7);
        a.selectAll("text").attr("font-size", "8.7px").attr("fill", "#000")
            .style("font-family", "DejaVu Sans");
    });

    g.append("rect")
        .attr("x", left).attr("y", top)
        .attr("width", plotW).attr("height", plotH)
        .attr("fill", "none")
        .attr("stroke", "#000")
        .attr("stroke-width", 0.7);

    if (p.row === 0) {
        svg.append("text")
            .attr("x", left + plotW / 2)
            .attr("y", top - 5)
            .attr("text-anchor", "middle")
            .attr("font-size", "10.4px")
            .text(titles[p.col]);
    }
});

rowLabels.forEach(function(lbl, r) {
    svg.append("text")
        .attr("transform", "translate(16.5," + (rowTop[r] + plotH / 2) + ") rotate(-90)")
        .attr("text-anchor", "middle")
        .attr("font-size", "8.7px")
        .text(lbl);
});
</script>
</body>
</html>
